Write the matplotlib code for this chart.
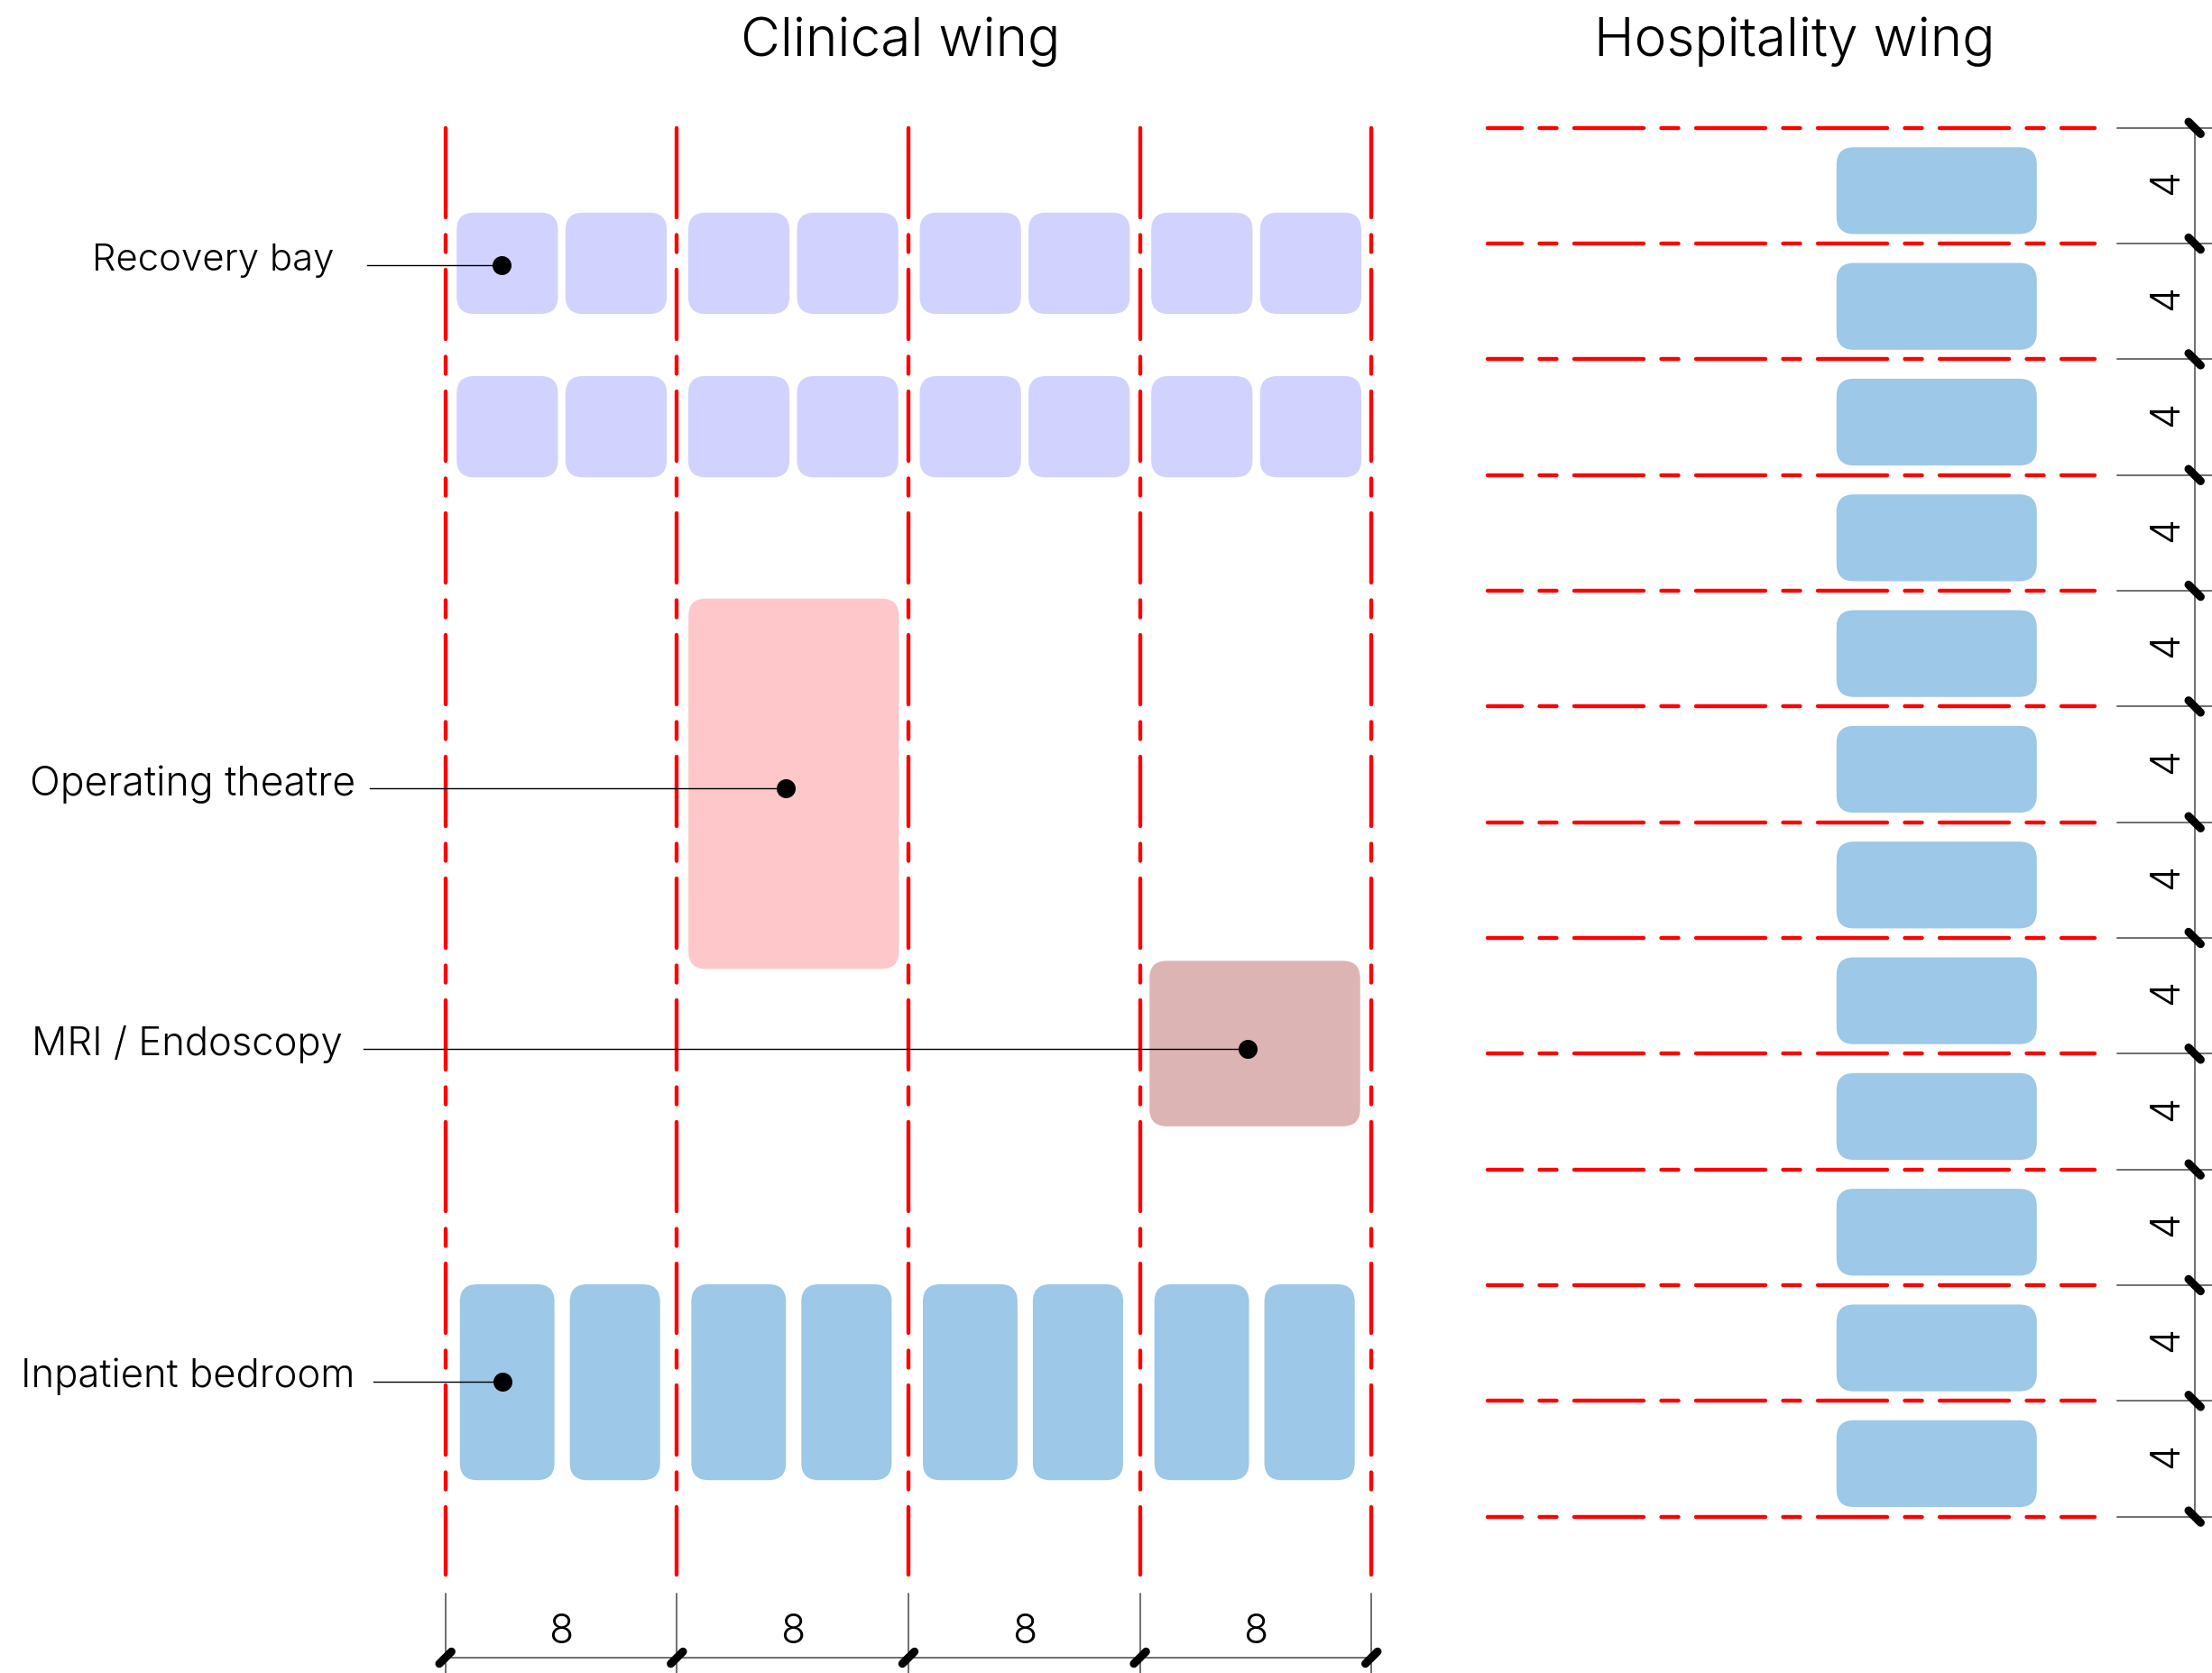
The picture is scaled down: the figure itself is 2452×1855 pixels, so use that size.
import matplotlib
matplotlib.use('Agg')
import matplotlib.pyplot as plt
from matplotlib.patches import FancyBboxPatch

# everything on the axes is in metres, 1 m = 32.08 px in the output
PX = 32.08
DPI = 100
PT = 72 / DPI  # one output pixel in points

plt.rcParams['font.family'] = ['Inter', 'DejaVu Sans']
plt.rcParams['font.weight'] = 300
plt.rcParams['lines.scale_dashes'] = False

# column and floor grids
clinical_grid = [0, 8, 16, 24, 32]
clinical_top = 48
clinical_bottom = -2
hospitality_grid = [0, 4, 8, 12, 16, 20, 24, 28, 32, 36, 40, 44, 48]
hospitality_left = 36
hospitality_right = 57

# rooms: x, y, width, height
recovery_rows = [41.57, 35.92]
recovery_offsets = [0.39, 4.15]
recovery_size = 3.5
bedroom_offsets = [0.5, 4.3]
bedroom_widths = [3.27, 3.12]
bedroom_y = 1.26
bedroom_height = 6.77
operating_room = (8.4, 18.93, 7.27, 12.8)
mri_room = (24.33, 13.49, 7.28, 5.72)
hospitality_room_x = 48.07
hospitality_room_width = 6.92
hospitality_room_height = 3.0
hospitality_room_gap = 0.33

# labels: text, text left x, baseline y, size, leader start x, dot x, dot y
labels = ['Recovery bay', 'Operating theatre', 'MRI / Endoscopy', 'Inpatient bedroom']
label_x = [-12.2, -14.35, -14.3, -14.66]
label_y = [43.09, 24.97, 15.99, 4.5]
label_size = [30.2, 32, 31.4, 31.5]
leader_start = [-2.7, -2.62, -2.82, -2.48]
dot_x = [1.95, 11.76, 27.72, 1.97]
dot_y = [43.26, 25.16, 16.16, 4.66]

bay_dimension = '8'
floor_dimension = '4'

RED = '#ff0000'
LILAC = '#d2d2fe'
BLUE = '#9dc8e7'
PINK = '#fec7c9'
MAUVE = '#ddb4b4'
DIM = '#444444'


def room(ax, x, y, w, h, color):
    r = 0.6
    ax.add_patch(FancyBboxPatch((x + r, y + r), w - 2 * r, h - 2 * r,
                                boxstyle=f'round,pad={r},rounding_size={r}',
                                fc=color, ec='none', zorder=2))


def dash_pattern(first, repeats, total):
    # long dash first, then gap / short / gap / long, last long takes what is left
    seq = [first]
    used = first
    for i in range(repeats):
        seq += [19.5, 19, 19.5, 77]
        used += 135
    seq[-1] = total - (used - 77)
    seq.append(500)
    return (0, [v * PT for v in seq])


fig = plt.figure(figsize=(24.52, 18.56), dpi=DPI)
ax = fig.add_axes([0, 0, 1, 1])
ax.set_xlim(-493.7 / PX, (2452 - 493.7) / PX)
ax.set_ylim(-(1856 - 1682.6) / PX, 1682.6 / PX)
ax.axis('off')

# rooms
for bay in clinical_grid[:-1]:
    for y in recovery_rows:
        for off in recovery_offsets:
            room(ax, bay + off, y, recovery_size, recovery_size, LILAC)
    for off, w in zip(bedroom_offsets, bedroom_widths):
        room(ax, bay + off, bedroom_y, w, bedroom_height, BLUE)
room(ax, *operating_room, PINK)
room(ax, *mri_room, MAUVE)
for y in hospitality_grid[:-1]:
    room(ax, hospitality_room_x, y + hospitality_room_gap,
         hospitality_room_width, hospitality_room_height, BLUE)

# red grid lines
v_pattern = dash_pattern(99, 11, (clinical_top - clinical_bottom) * PX)
for x in clinical_grid:
    ax.plot([x, x], [clinical_top, clinical_bottom], color=RED, lw=4.4 * PT,
            linestyle=v_pattern, dash_capstyle='round', zorder=3)
h_pattern = dash_pattern(38, 5, (hospitality_right - hospitality_left) * PX)
for y in hospitality_grid:
    ax.plot([hospitality_left, hospitality_right], [y, y], color=RED, lw=4.4 * PT,
            linestyle=h_pattern, dash_capstyle='round', zorder=3)

# bay dimensions along the bottom
dim_y = -(1838 - 1681.6) / PX
ax.plot([clinical_grid[0], clinical_grid[-1]], [dim_y, dim_y], color=DIM, lw=1.5 * PT, zorder=3)
for x in clinical_grid:
    ax.plot([x, x], [-2.67, -5.44], color=DIM, lw=1.5 * PT, zorder=3)
    ax.plot([x - 0.21, x + 0.21], [dim_y - 0.21, dim_y + 0.21], color='black', lw=9 * PT,
            solid_capstyle='round', zorder=4)
for a, b in zip(clinical_grid[:-1], clinical_grid[1:]):
    ax.text((a + b) / 2, dim_y + 0.52, bay_dimension, ha='center', va='baseline', fontsize=32)

# floor dimensions on the right
dim_x = (2432.7 - 493.7) / PX
ax.plot([dim_x, dim_x], [hospitality_grid[0], hospitality_grid[-1]], color=DIM, lw=1.5 * PT, zorder=3)
for y in hospitality_grid:
    ax.plot([(2346.7 - 493.7) / PX, (2452 - 493.7) / PX], [y, y], color=DIM, lw=1.5 * PT, zorder=3)
    ax.plot([dim_x - 0.21, dim_x + 0.21], [y + 0.21, y - 0.21], color='black', lw=9 * PT,
            solid_capstyle='round', zorder=4)
for a, b in zip(hospitality_grid[:-1], hospitality_grid[1:]):
    ax.text(dim_x - 0.95, (a + b) / 2 + 0.15, floor_dimension, rotation=90, ha='center', va='center', fontsize=32)

# leaders and labels
for name, tx, ty, size, lx, dx, dy in zip(labels, label_x, label_y, label_size, leader_start, dot_x, dot_y):
    ax.plot([lx, dx], [dy, dy], color='black', lw=1.4 * PT, zorder=5)
    ax.plot(dx, dy, 'o', color='black', ms=21 * PT, mew=0, zorder=6)
    ax.text(tx, ty, name, ha='left', va='baseline', fontsize=size)

# wing titles
ax.text(15.74, 50.53, 'Clinical wing', ha='center', va='baseline', fontsize=43.4)
ax.text(46.63, 50.53, 'Hospitality wing', ha='center', va='baseline', fontsize=43.4)

fig.savefig('out.png', dpi=DPI)
